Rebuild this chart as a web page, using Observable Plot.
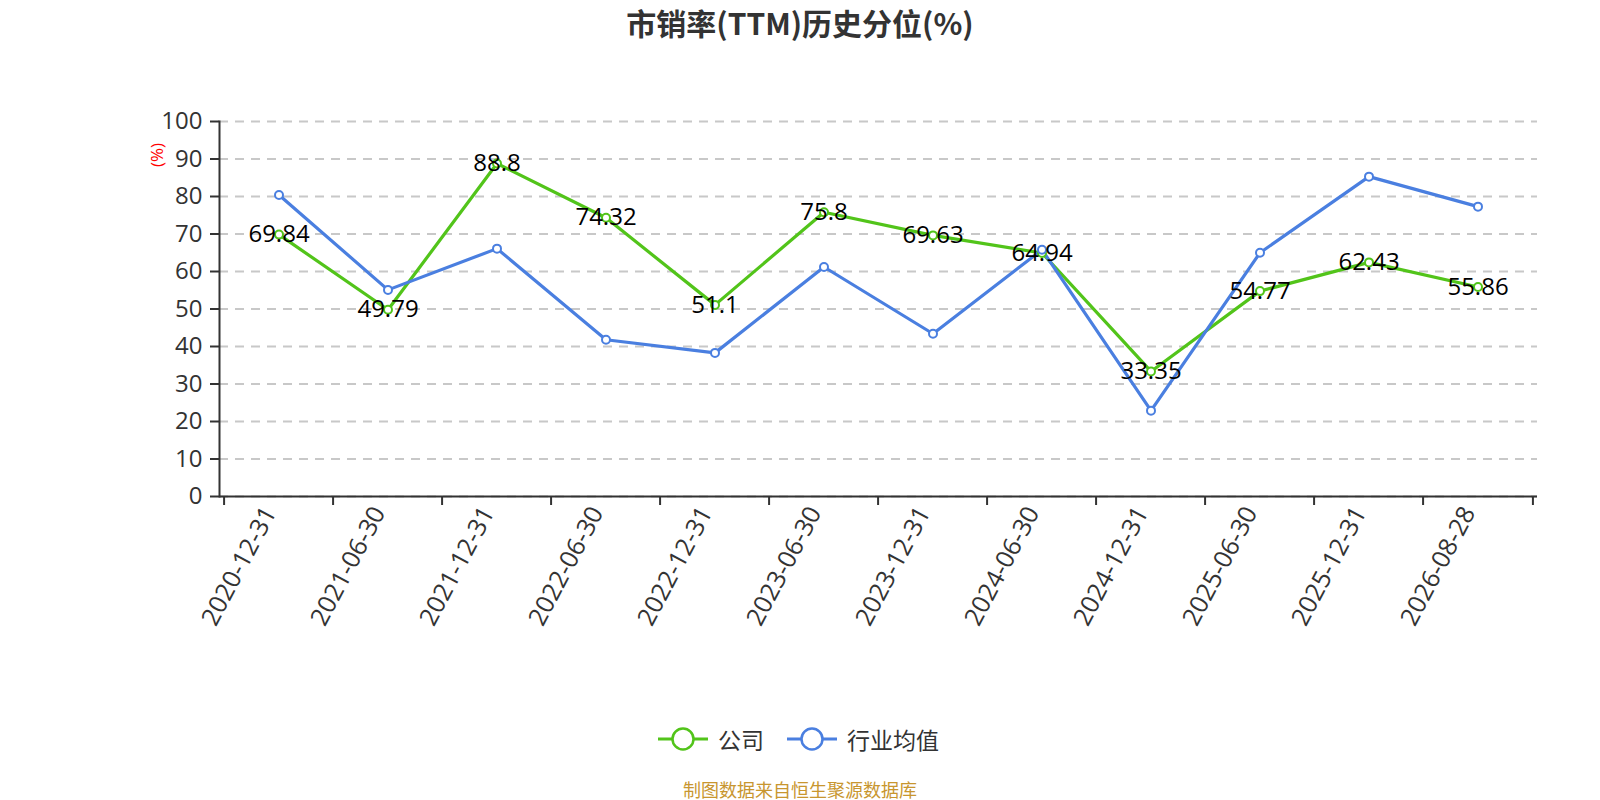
<!DOCTYPE html>
<html>
<head>
<meta charset="utf-8">
<script src="https://cdn.jsdelivr.net/npm/d3@7"></script>
<script src="https://cdn.jsdelivr.net/npm/@observablehq/plot@0.6"></script>
<style>
  html, body { margin: 0; padding: 0; background: #fff; }
  body { width: 1600px; height: 800px; position: relative; overflow: hidden;
         font-family: "Open Sans", "Noto Sans CJK SC", sans-serif; }
  #title { position: absolute; left: 0; width: 1600px; top: 2px; text-align: center;
           font-size: 30px; font-weight: bold; color: #333; line-height: 40px;
           font-family: "Noto Sans CJK SC", sans-serif; }
  #chart { position: absolute; left: 0; top: 45px; }
  #ylab { position: absolute; left: 145px; top: 145px; color: red; font-size: 17px;
          transform: rotate(-90deg); transform-origin: center; line-height: 20px; z-index: 2; }
  #legend { position: absolute; left: 658px; top: 722px; display: flex; align-items: center;
            font-size: 23px; color: #333; font-family: "Noto Sans CJK SC", sans-serif; }
  #legend .item { display: flex; align-items: center; }
  #legend svg { margin-right: 10px; }
  #caption { position: absolute; left: 0; width: 1600px; top: 777px; text-align: center;
             font-size: 18px; color: #c8962f; line-height: 24px;
             font-family: "Noto Sans CJK SC", sans-serif; }
</style>
</head>
<body>
<div id="title">市销率(TTM)历史分位(%)</div>
<div id="chart"></div>
<div id="ylab">(%)</div>
<div id="legend"></div>
<div id="caption">制图数据来自恒生聚源数据库</div>
<script>
const dates = ["2020-12-31","2021-06-30","2021-12-31","2022-06-30","2022-12-31","2023-06-30","2023-12-31","2024-06-30","2024-12-31","2025-06-30","2025-12-31","2026-08-28"];
const company = [69.84, 49.79, 88.8, 74.32, 51.1, 75.8, 69.63, 64.94, 33.35, 54.77, 62.43, 55.86];
const industry = [80.4, 55.1, 66.1, 41.8, 38.3, 61.2, 43.4, 65.8, 22.9, 65.0, 85.3, 77.3];
const yTicks = [0, 10, 20, 30, 40, 50, 60, 70, 80, 90, 100];
const seriesNames = ["公司", "行业均值"];
const colors = ["#52c41a", "#4a7fe0"];

const compData = dates.map((d, i) => ({date: d, value: company[i]}));
const indData = dates.map((d, i) => ({date: d, value: industry[i]}));

const W = 1600, H = 655, mL = 219, mR = 63, mT = 76, mB = 204;
const bw = (W - mL - mR) / dates.length;

const chart = Plot.plot({
  width: W, height: H,
  marginLeft: mL, marginRight: mR, marginTop: mT, marginBottom: mB,
  style: {fontFamily: "'Open Sans', 'Noto Sans CJK SC', sans-serif", fontSize: "24px", color: "#333", background: "#fff"},
  x: {type: "band", domain: dates, padding: 0},
  y: {domain: [0, 100]},
  marks: [
    Plot.gridY(yTicks, {stroke: "#c8c8c8", strokeOpacity: 1, strokeWidth: 2, strokeDasharray: "9,7"}),
    Plot.axisY(yTicks, {tickSize: 9, tickPadding: 8, fontSize: 24, stroke: "#333", strokeWidth: 2, label: null, fill: "#333"}),
    Plot.axisX({tickSize: 0, tickPadding: 12, tickRotate: -62, dx: -9, fontSize: 25, label: null, fill: "#333"}),
    Plot.axisX({tickSize: 9, text: null, dx: -bw / 2, stroke: "#333", strokeWidth: 2, label: null}),
    Plot.axisX([dates[dates.length - 1]], {tickSize: 9, text: null, dx: bw / 2, stroke: "#333", strokeWidth: 2, label: null}),
    Plot.frame({anchor: "left", stroke: "#333", strokeWidth: 2}),
    Plot.ruleY([0], {stroke: "#333", strokeWidth: 2}),
    Plot.line(compData, {x: "date", y: "value", stroke: colors[0], strokeWidth: 3.2}),
    Plot.line(indData, {x: "date", y: "value", stroke: colors[1], strokeWidth: 3.2}),
    Plot.dot(compData, {x: "date", y: "value", r: 4, fill: "#fff", stroke: colors[0], strokeWidth: 2}),
    Plot.dot(indData, {x: "date", y: "value", r: 4, fill: "#fff", stroke: colors[1], strokeWidth: 2}),
    Plot.text(compData, {x: "date", y: "value", text: d => String(d.value), fontSize: 24, fill: "#000"})
  ]
});
document.getElementById("chart").appendChild(chart);

const legend = document.getElementById("legend");
seriesNames.forEach((name, i) => {
  const item = document.createElement("div");
  item.className = "item";
  item.style.marginRight = i === 0 ? "23px" : "0";
  item.innerHTML = `<svg width="50" height="26"><line x1="0" y1="13" x2="50" y2="13" stroke="${colors[i]}" stroke-width="3"/><circle cx="25" cy="13" r="10.5" fill="#fff" stroke="${colors[i]}" stroke-width="2.5"/></svg><span>${name}</span>`;
  legend.appendChild(item);
});
</script>
</body>
</html>
